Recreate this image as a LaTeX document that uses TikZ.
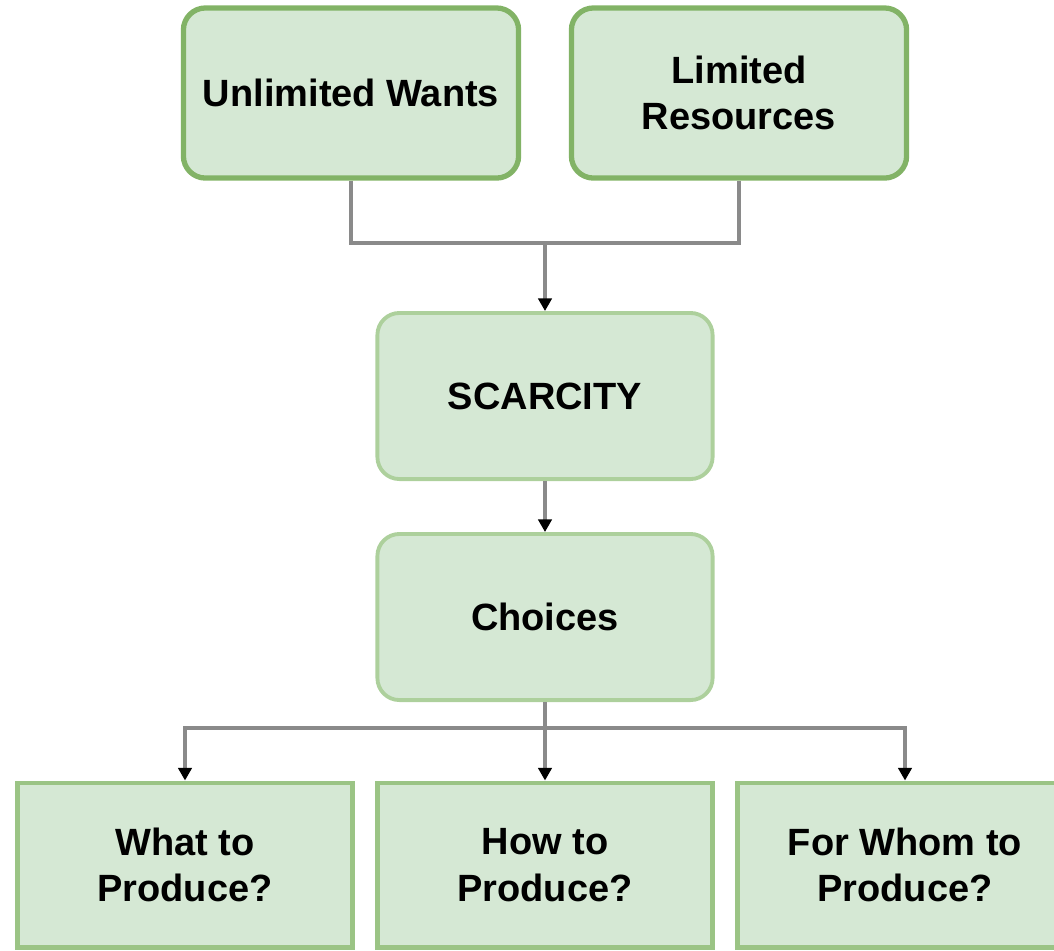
\documentclass[tikz,border=0pt]{standalone}
\usepackage{fontspec}
\setsansfont{Liberation Sans}
\usetikzlibrary{shapes.geometric, arrows.meta}
\definecolor{boxfill}{HTML}{D5E8D4}
\definecolor{greendark}{HTML}{82B366}
\definecolor{greenmid}{HTML}{9BC485}
\definecolor{greenlight}{HTML}{ADD09C}
\definecolor{linkgray}{HTML}{8A8A8A}
\tikzstyle{base} = [rectangle, minimum width=3.35cm, text centered, align=center, fill=boxfill, font=\sffamily\bfseries\fontsize{10.8}{13.2}\selectfont]
\tikzstyle{topbox} = [base, rounded corners=0.22cm, minimum height=1.7cm, draw=greendark, line width=1.5pt]
\tikzstyle{midbox} = [base, rounded corners=0.22cm, minimum height=1.66cm, draw=greenlight, line width=1.1pt]
\tikzstyle{leafbox} = [base, minimum height=1.64cm, draw=greenmid, line width=1.4pt]
\tikzstyle{link} = [linkgray, line width=1.1pt]
\tikzstyle{arrow} = [link, -{Triangle[length=3.6pt,width=3.8pt,color=black]}]

\begin{document}
\begin{tikzpicture}[x=0.01cm, y=-0.01cm]
\clip (0,0) rectangle (1054,950);
% top row
\node (wants) [topbox] at (351,93) {Unlimited Wants};
\node (res) [topbox] at (739,93) {Limited\\Resources};
% middle
\node (scarcity) [midbox] at (545,396) {SCARCITY};
\node (choices) [midbox] at (545,617) {Choices};
% three questions
\node (what) [leafbox] at (185,865) {What to\\Produce?};
\node (how) [leafbox] at (545,865) {How to\\Produce?};
\node (whom) [leafbox] at (905,865) {For Whom to\\Produce?};
% connectors
\coordinate (join) at (545,243);
\coordinate (split) at (545,728);
\draw[link] (wants.south) |- (join);
\draw[link] (res.south) |- (join);
\draw[arrow] (join) -- (scarcity.north);
\draw[arrow] (scarcity.south) -- (choices.north);
\draw[link] (choices.south) -- (split);
\draw[arrow] (split) -| (what.north);
\draw[arrow] (split) -| (whom.north);
\draw[arrow] (split) -- (how.north);
\end{tikzpicture}
\end{document}
